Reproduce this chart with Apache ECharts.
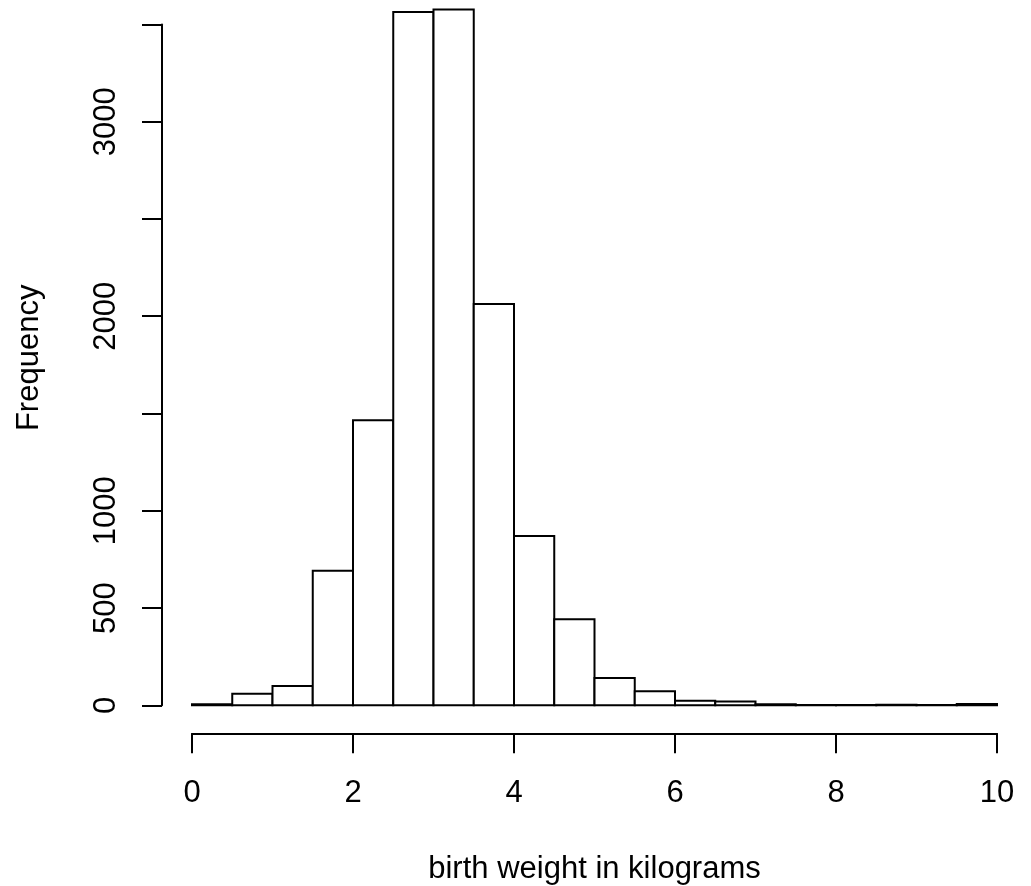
<!DOCTYPE html>
<html>
<head>
<meta charset="utf-8">
<title>birth weight histogram</title>
<script src="https://cdn.jsdelivr.net/npm/echarts@6/dist/echarts.min.js"></script>
<style>
  html, body { margin: 0; padding: 0; background: #fff; }
  #chart { width: 1031px; height: 886px; }
</style>
</head>
<body>
<div id="chart"></div>
<script>
// bins of 0.5 kg, counts
var binStart = [0, 0.5, 1, 1.5, 2, 2.5, 3, 3.5, 4, 4.5, 5, 5.5, 6, 6.5, 7, 7.5, 8, 8.5, 9, 9.5];
var binWidth = 0.5;
var counts = [6, 60, 99, 692, 1465, 3564, 3577, 2063, 870, 442, 140, 72, 24, 19, 5, 1, 1, 3, 1, 7];
// R drops the y labels that would overlap
var yTickLabels = ['0', '500', '1000', '2000', '3000'];

var font = '"Liberation Sans", Arial, Helvetica, sans-serif';

var bars = binStart.map(function (s, i) {
  return [s, s + binWidth, counts[i]];
});

var myChart = echarts.init(document.getElementById('chart'));

myChart.setOption({
  animation: false,
  backgroundColor: '#fff',
  grid: {
    left: 192,
    right: 34,
    top: 24.4,
    bottom: 180.7,
    containLabel: false,
    outerBoundsMode: 'none'
  },
  xAxis: {
    type: 'value',
    min: 0,
    max: 10,
    interval: 2,
    offset: 28,
    name: 'birth weight in kilograms',
    nameLocation: 'middle',
    nameGap: 121,
    nameTextStyle: { fontFamily: font, fontSize: 31, color: '#000' },
    axisLine: { show: true, onZero: false, lineStyle: { color: '#000', width: 2 } },
    axisTick: { show: true, inside: false, length: 20, lineStyle: { color: '#000', width: 2 } },
    axisLabel: { margin: 45, fontFamily: font, fontSize: 31, color: '#000' },
    splitLine: { show: false }
  },
  yAxis: {
    type: 'value',
    min: 0,
    max: 3500,
    interval: 500,
    offset: 30,
    name: 'Frequency',
    nameLocation: 'middle',
    nameRotate: 90,
    nameGap: 117,
    nameTextStyle: { fontFamily: font, fontSize: 31, color: '#000', padding: [0, 0, 0, 14] },
    axisLine: { show: true, onZero: false, lineStyle: { color: '#000', width: 2 } },
    axisTick: { show: true, inside: false, length: 20, lineStyle: { color: '#000', width: 2 } },
    axisLabel: {
      rotate: 90,
      margin: 40,
      fontFamily: font,
      fontSize: 31,
      color: '#000',
      formatter: function (v) {
        var s = String(v);
        return yTickLabels.indexOf(s) >= 0 ? s : '';
      }
    },
    splitLine: { show: false }
  },
  series: [
    {
      type: 'custom',
      clip: false,
      data: bars,
      encode: { x: [0, 1], y: 2 },
      renderItem: function (params, api) {
        var topLeft = api.coord([api.value(0), api.value(2)]);
        var bottomRight = api.coord([api.value(1), 0]);
        return {
          type: 'rect',
          shape: {
            x: topLeft[0],
            y: topLeft[1],
            width: bottomRight[0] - topLeft[0],
            height: bottomRight[1] - topLeft[1]
          },
          style: { fill: '#fff', stroke: '#000', lineWidth: 2 }
        };
      }
    }
  ]
});
</script>
</body>
</html>
